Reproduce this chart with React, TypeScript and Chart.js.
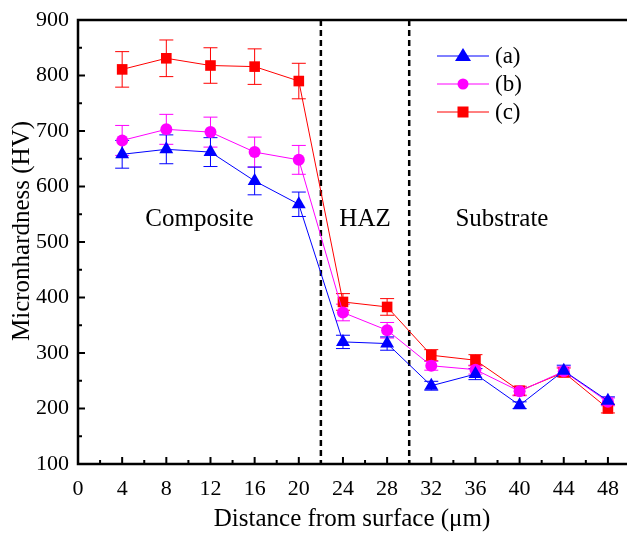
import React, { useEffect, useRef } from "react";
import { Chart, registerables } from "chart.js";

Chart.register(...registerables);

const distances = [4, 8, 12, 16, 20, 24, 28, 32, 36, 40, 44, 48];
const seriesA = [658, 667, 662, 610, 568, 320, 317, 241, 262, 206, 268, 214];
const seriesB = [683, 703, 698, 662, 648, 373, 341, 277, 270, 231, 267, 212];
const seriesC = [811, 831, 818, 816, 790, 392, 383, 296, 287, 232, 265, 200];
const errA = [25, 26, 26, 25, 22, 12, 12, 8, 10, 6, 10, 7];
const errB = [27, 27, 27, 27, 26, 15, 14, 8, 8, 8, 8, 7];
const errC = [32, 33, 32, 32, 32, 15, 15, 10, 10, 8, 8, 8];
const xTicks = [0, 4, 8, 12, 16, 20, 24, 28, 32, 36, 40, 44, 48];
const yTicks = [100, 200, 300, 400, 500, 600, 700, 800, 900];
const boundaries = [22, 30];
const regionLabels = [
  { text: "Composite", x: 11.0, y: 540 },
  { text: "HAZ", x: 26.0, y: 540 },
  { text: "Substrate", x: 38.4, y: 540 },
];
const legendLabels = ["(a)", "(b)", "(c)"];

const BLUE = "#0000ff";
const MAGENTA = "#ff00ff";
const RED = "#ff0000";
const SERIF = "'Liberation Serif', 'Times New Roman', serif";

const series = [seriesA, seriesB, seriesC];
const errors = [errA, errB, errC];
const colors = [BLUE, MAGENTA, RED];
const styles = ["triangle", "circle", "rect"];
const radii = [8, 6, 7.5];

const customPlugin = {
  id: "custom",
  beforeDatasetsDraw(chart: any) {
    const { ctx, chartArea, scales } = chart;
    const xs = scales.x;
    const ys = scales.y;
    ctx.save();
    for (let d = 2; d >= 0; d--) {
      const vals = series[d];
      ctx.strokeStyle = colors[d];
      ctx.lineWidth = 1;
      vals.forEach((v: number, i: number) => {
        const x = xs.getPixelForValue(distances[i]);
        const top = ys.getPixelForValue(v + errors[d][i]);
        const bot = ys.getPixelForValue(v - errors[d][i]);
        ctx.beginPath();
        ctx.moveTo(x, top);
        ctx.lineTo(x, bot);
        ctx.moveTo(x - 7, top);
        ctx.lineTo(x + 7, top);
        ctx.moveTo(x - 7, bot);
        ctx.lineTo(x + 7, bot);
        ctx.stroke();
      });
    }
    ctx.strokeStyle = "#000";
    ctx.lineWidth = 2.5;
    ctx.setLineDash([6, 4]);
    boundaries.forEach((b) => {
      const x = xs.getPixelForValue(b);
      ctx.beginPath();
      ctx.moveTo(x, chartArea.top);
      ctx.lineTo(x, chartArea.bottom);
      ctx.stroke();
    });
    ctx.setLineDash([]);
    ctx.fillStyle = "#000";
    ctx.font = `25px ${SERIF}`;
    ctx.textAlign = "center";
    ctx.textBaseline = "middle";
    regionLabels.forEach((r) => {
      ctx.fillText(r.text, xs.getPixelForValue(r.x), ys.getPixelForValue(r.y));
    });
    ctx.restore();
  },
  afterDraw(chart: any) {
    const { ctx, chartArea, scales } = chart;
    const xs = scales.x;
    const ys = scales.y;
    ctx.save();
    ctx.strokeStyle = "#000";
    ctx.lineWidth = 2.5;
    ctx.beginPath();
    ctx.moveTo(chartArea.right, chartArea.top);
    ctx.lineTo(chartArea.left, chartArea.top);
    ctx.lineTo(chartArea.left, chartArea.bottom);
    ctx.lineTo(chartArea.right, chartArea.bottom);
    ctx.stroke();
    ctx.lineWidth = 2;
    for (let v = 0; v <= 50; v += 2) {
      const x = xs.getPixelForValue(v);
      const len = v % 4 === 0 ? 7 : 4;
      ctx.beginPath();
      ctx.moveTo(x, chartArea.bottom);
      ctx.lineTo(x, chartArea.bottom - len);
      ctx.stroke();
    }
    for (let v = 100; v <= 900; v += 50) {
      const y = ys.getPixelForValue(v);
      const len = v % 100 === 0 ? 7 : 4;
      ctx.beginPath();
      ctx.moveTo(chartArea.left, y);
      ctx.lineTo(chartArea.left + len, y);
      ctx.stroke();
    }
    ctx.fillStyle = "#000";
    ctx.font = `25px ${SERIF}`;
    ctx.textAlign = "center";
    ctx.textBaseline = "middle";
    ctx.fillText("Distance from surface (\u03bcm)", 352, 519);
    ctx.save();
    ctx.translate(22, 231);
    ctx.rotate(-Math.PI / 2);
    ctx.fillText("Micronhardness (HV)", 0, 0);
    ctx.restore();
    const rows = [56, 84, 112];
    ctx.font = `23px ${SERIF}`;
    ctx.textAlign = "left";
    for (let d = 0; d < 3; d++) {
      const y = rows[d];
      ctx.strokeStyle = colors[d];
      ctx.lineWidth = 1;
      ctx.beginPath();
      ctx.moveTo(437, y);
      ctx.lineTo(489, y);
      ctx.stroke();
      ctx.fillStyle = colors[d];
      const cx = 463;
      if (d === 0) {
        ctx.beginPath();
        ctx.moveTo(cx, y - 8);
        ctx.lineTo(cx + 8, y + 5);
        ctx.lineTo(cx - 8, y + 5);
        ctx.closePath();
        ctx.fill();
      } else if (d === 1) {
        ctx.beginPath();
        ctx.arc(cx, y, 5.5, 0, Math.PI * 2);
        ctx.fill();
      } else {
        ctx.fillRect(cx - 5.5, y - 5.5, 11, 11);
      }
      ctx.fillStyle = "#000";
      ctx.fillText(legendLabels[d], 495, y + 1);
    }
    ctx.restore();
  },
};

export default function App() {
  const ref = useRef<HTMLCanvasElement | null>(null);
  useEffect(() => {
    document.body.style.margin = "0";
    const chart = new Chart(ref.current as HTMLCanvasElement, {
      type: "scatter",
      data: {
        datasets: series.map((s, d) => ({
          label: legendLabels[d],
          data: s.map((v, i) => ({ x: distances[i], y: v })) as any,
          showLine: true,
          borderColor: colors[d],
          backgroundColor: colors[d],
          borderWidth: 1,
          pointStyle: styles[d] as any,
          pointRadius: radii[d],
          pointBorderWidth: 0,
          order: d + 1,
        })),
      },
      options: {
        animation: false,
        responsive: true,
        maintainAspectRatio: false,
        devicePixelRatio: 1,
        layout: { autoPadding: false, padding: { top: 20, right: 0, left: 0, bottom: 0 } },
        plugins: { legend: { display: false }, tooltip: { enabled: false } },
        scales: {
          x: {
            type: "linear",
            min: 0,
            max: 50,
            grid: { display: false, drawTicks: false },
            border: { display: false },
            afterBuildTicks: (s: any) => {
              s.ticks = xTicks.map((v) => ({ value: v }));
            },
            afterFit: (s: any) => {
              s.height = 70;
              s.paddingLeft = 0;
              s.paddingRight = 0;
            },
            ticks: {
              padding: 12,
              color: "#000",
              font: { family: SERIF, size: 22 },
              maxRotation: 0,
            },
          },
          y: {
            type: "linear",
            min: 100,
            max: 900,
            grid: { display: false, drawTicks: false },
            border: { display: false },
            afterBuildTicks: (s: any) => {
              s.ticks = yTicks.map((v) => ({ value: v }));
            },
            afterFit: (s: any) => {
              s.width = 78;
              s.paddingTop = 0;
              s.paddingBottom = 0;
            },
            ticks: {
              padding: 9,
              color: "#000",
              font: { family: SERIF, size: 22 },
            },
          },
        },
      },
      plugins: [customPlugin],
    });
    return () => chart.destroy();
  }, []);
  return (
    <div style={{ position: "fixed", left: 0, top: 0, width: 627, height: 534, overflow: "hidden", background: "#fff" }}>
      <div style={{ position: "relative", width: 630, height: 534 }}>
        <canvas ref={ref} />
      </div>
    </div>
  );
}
